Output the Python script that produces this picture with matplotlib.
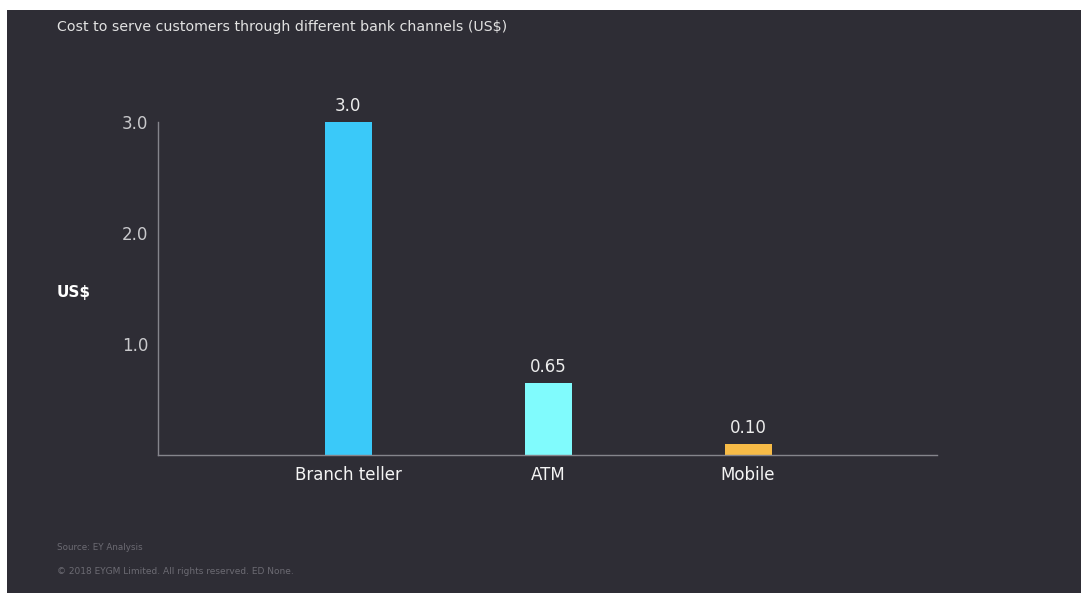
import matplotlib
matplotlib.use("Agg")
import matplotlib.pyplot as plt
from matplotlib.patches import Rectangle

channels = ["Branch teller", "ATM", "Mobile"]
cost = [3.0, 0.65, 0.10]
cost_labels = ["3.0", "0.65", "0.10"]
bar_colors = ["#3ac9f9", "#80fbfd", "#f7bb47"]
yticks = [1.0, 2.0, 3.0]
ytick_labels = ["1.0", "2.0", "3.0"]

bg = "#2e2d35"
W, H = 1081, 593

fig = plt.figure(figsize=(W / 100, H / 100), dpi=100, facecolor="white")
# dark panel, leaving the thin white margin top and left
fig.patches.append(Rectangle((7 / W, 0), 1 - 7 / W, (H - 10) / H,
                             transform=fig.transFigure, facecolor=bg,
                             edgecolor="none", zorder=-10))

ax = fig.add_axes([158 / W, (H - 455) / H, (937 - 158) / W, (455 - 122) / H])
ax.set_facecolor("none")

x = range(len(channels))
ax.bar(x, cost, width=0.235, color=bar_colors, zorder=2)
for xi, v, lab in zip(x, cost, cost_labels):
    ax.text(xi, v + 0.06, lab, ha="center", va="bottom", color="#ececec", fontsize=12)

ax.set_xlim(-0.95, 2.945)
ax.set_ylim(0, 3.0)
ax.set_xticks(list(x))
ax.set_xticklabels(channels, color="#f4f4f4", fontsize=12)
ax.set_yticks(yticks)
ax.set_yticklabels(ytick_labels, color="#c9c9cc", fontsize=12)
ax.tick_params(axis="both", length=0)
ax.tick_params(axis="x", pad=8)
ax.tick_params(axis="y", pad=7)

for s in ("top", "right"):
    ax.spines[s].set_visible(False)
for s in ("left", "bottom"):
    ax.spines[s].set_color("#85858c")
    ax.spines[s].set_linewidth(1.0)

fig.text(57 / W, 1 - 27 / H, "Cost to serve customers through different bank channels (US$)",
         color="#e2e2e2", fontsize=10.2, va="center", ha="left")
fig.text(57 / W, 1 - 292 / H, "US$", color="white", fontsize=11, fontweight="bold",
         va="center", ha="left")
fig.text(57 / W, 1 - 548 / H, "Source: EY Analysis", color="#6c6b73", fontsize=6.3,
         va="center", ha="left")
fig.text(57 / W, 1 - 571 / H, "\u00a9 2018 EYGM Limited. All rights reserved. ED None.",
         color="#6c6b73", fontsize=6.5, va="center", ha="left")

fig.savefig("out.png", dpi=100, facecolor=fig.get_facecolor())
